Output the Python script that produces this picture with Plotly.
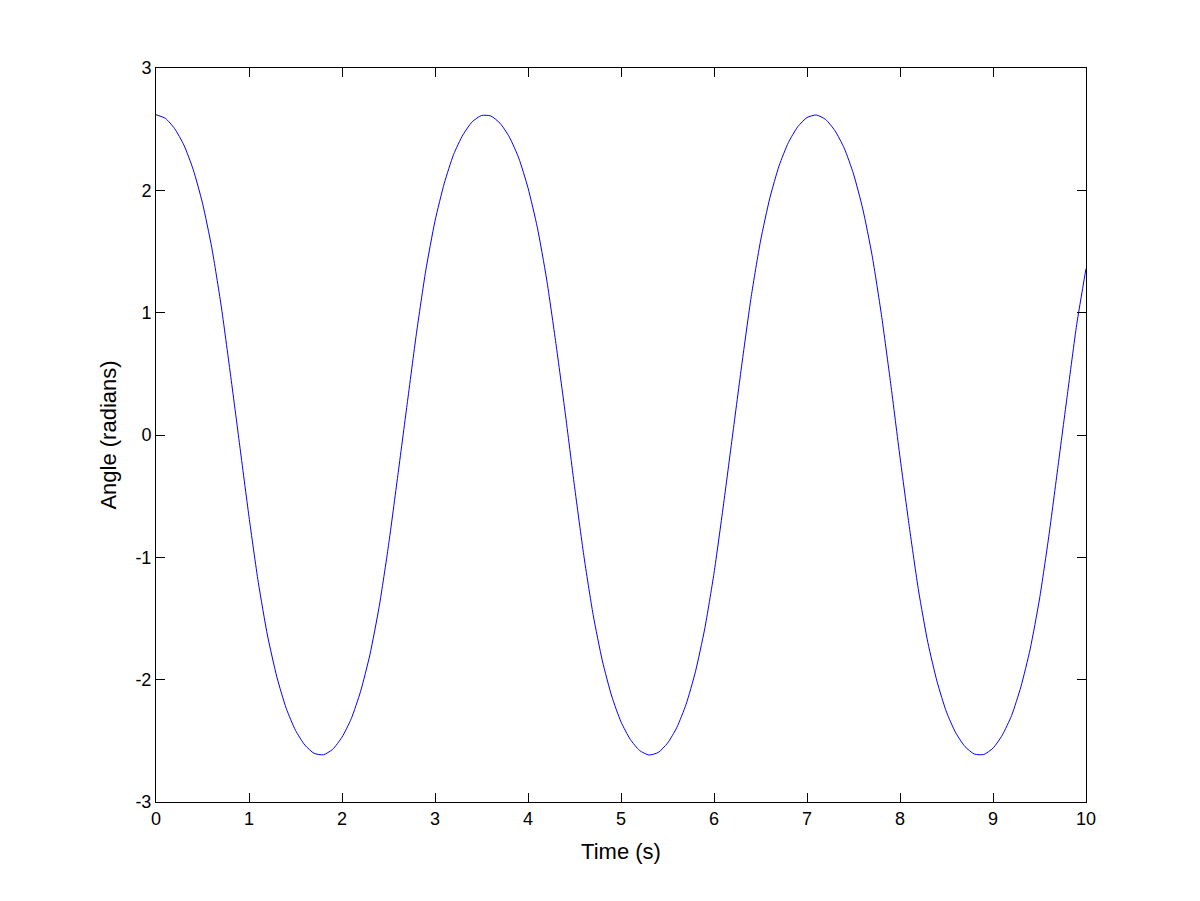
import plotly.graph_objects as go

# Time samples (s)
time_s = [round(i * 0.1, 1) for i in range(101)]

# Angle (radians)
angle_rad = [
    2.618, 2.589, 2.505, 2.370, 2.170, 1.895, 1.530, 1.060, 0.500, -0.084,
    -0.668, -1.205, -1.643, -1.979, -2.234, -2.414, -2.534, -2.602, -2.614, -2.569,
    -2.470, -2.318, -2.095, -1.796, -1.402, -0.903, -0.332, 0.250, 0.828, 1.341,
    1.749, 2.058, 2.293, 2.453, 2.560, 2.612, 2.608, 2.548, 2.435, 2.265,
    2.020, 1.698, 1.275, 0.749, 0.181, -0.419, -0.984, -1.468, -1.847, -2.134,
    -2.345, -2.488, -2.579, -2.616, -2.595, -2.519, -2.391, -2.201, -1.936, -1.585,
    -1.130, -0.581, 0.000, 0.581, 1.130, 1.585, 1.936, 2.201, 2.391, 2.519,
    2.595, 2.616, 2.579, 2.488, 2.345, 2.134, 1.847, 1.468, 0.984, 0.419,
    -0.181, -0.749, -1.275, -1.698, -2.020, -2.265, -2.435, -2.548, -2.608, -2.612,
    -2.560, -2.453, -2.293, -2.058, -1.749, -1.341, -0.828, -0.250, 0.332, 0.903,
    1.360,
]

x_ticks = [0, 1, 2, 3, 4, 5, 6, 7, 8, 9, 10]
y_ticks = [-3, -2, -1, 0, 1, 2, 3]

font_family = "Liberation Sans, Arial, Helvetica, sans-serif"

fig = go.Figure()
fig.add_trace(go.Scatter(
    x=time_s, y=angle_rad, mode="lines",
    line=dict(color="#0000FF", width=1, shape="spline", smoothing=0.6),
    showlegend=False, hoverinfo="skip",
))

axis_common = dict(
    showline=True, linecolor="black", linewidth=1, mirror="ticks",
    ticks="inside", ticklen=9, tickwidth=1, tickcolor="black",
    showgrid=False, zeroline=False,
    tickfont=dict(family=font_family, size=18, color="black"),
)

fig.update_layout(
    width=1200, height=901,
    margin=dict(l=148, r=122, t=60, b=107),
    paper_bgcolor="white", plot_bgcolor="white",
    font=dict(family=font_family, size=18, color="black"),
    xaxis=dict(range=[0, 10], tickvals=x_ticks, ticktext=[str(v) for v in x_ticks],
               title=dict(text="Time (s)", standoff=16), **axis_common),
    yaxis=dict(range=[-3, 3], tickvals=y_ticks, ticktext=[str(v) for v in y_ticks],
               title=dict(text="Angle (radians)", standoff=12), **axis_common),
)

fig.write_html("out.html")
